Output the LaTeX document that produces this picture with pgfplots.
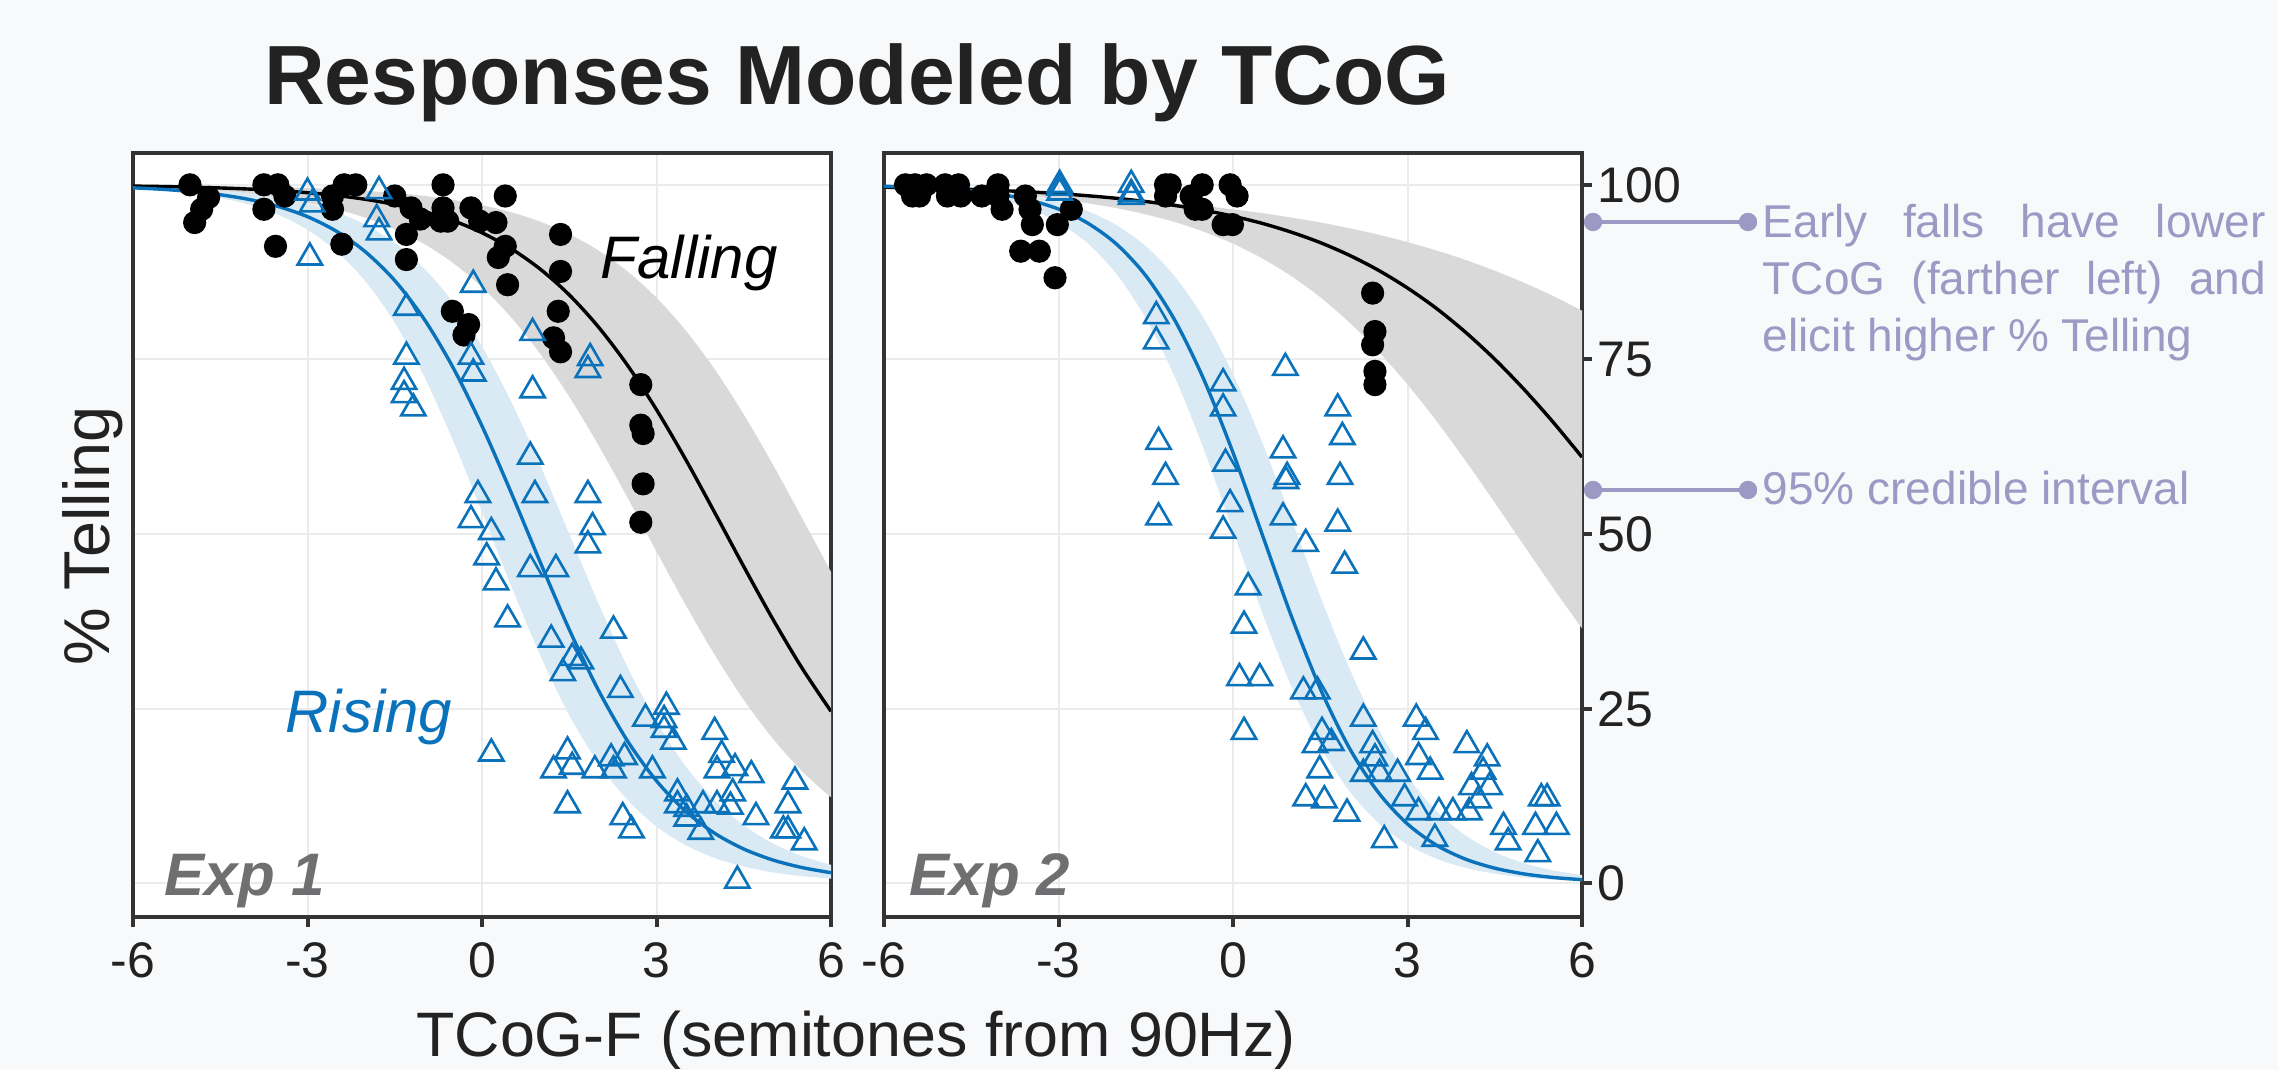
\documentclass[border=0pt]{standalone}
\usepackage{fontspec}
\setmainfont{Liberation Sans}
\usepackage{pgfplots}
\pgfplotsset{compat=1.18}
\usepackage{pgfplotstable}
\usepgfplotslibrary{fillbetween}
\definecolor{bg}{HTML}{F8F9FB}
\definecolor{myblue}{HTML}{0A72BA}
\definecolor{bandblue}{HTML}{DAEAF4}
\definecolor{bandgray}{HTML}{D9D9D9}
\definecolor{gridc}{HTML}{EBEBEB}
\definecolor{annot}{HTML}{9C99C5}
\definecolor{expg}{HTML}{6F6F71}
\definecolor{axc}{HTML}{333333}
\definecolor{txt}{HTML}{222222}

\pgfplotstableread{
x e1k e1kl e1ku e1b e1bl e1bu e2k e2kl e2ku e2b e2bl e2bu
-6 99.82 99.59 99.93 99.57 99.47 99.75 99.66 99.52 99.40 99.79 99.67 99.83
-5.5 99.76 99.44 99.90 99.36 99.19 99.63 99.57 99.38 99.31 99.67 99.47 99.74
-5 99.67 99.24 99.87 99.04 98.76 99.45 99.47 99.21 99.20 99.46 99.16 99.59
-4.5 99.55 98.96 99.82 98.58 98.12 99.18 99.34 99.00 99.07 99.14 98.65 99.36
-4 99.39 98.59 99.75 97.90 97.15 98.79 99.18 98.72 98.92 98.63 97.85 98.99
-3.5 99.17 98.09 99.66 96.89 95.70 98.20 98.99 98.37 98.75 97.81 96.59 98.43
-3 98.87 97.41 99.54 95.44 93.57 97.34 98.74 97.93 98.54 96.53 94.63 97.56
-2.5 98.47 96.50 99.37 93.34 90.49 96.08 98.44 97.37 98.31 94.53 91.64 96.23
-2 97.92 95.28 99.14 90.38 86.15 94.27 98.07 96.66 98.05 91.49 87.21 94.21
-1.5 97.18 93.67 98.83 86.30 80.26 91.68 97.61 95.77 97.74 87.00 80.91 91.21
-1 96.19 91.57 98.42 80.85 72.66 88.08 97.05 94.67 97.38 80.61 72.49 86.87
-0.5 94.88 88.83 97.85 73.88 63.47 83.20 96.36 93.28 96.97 72.11 62.10 80.85
0 93.14 85.37 97.09 65.48 53.18 76.85 95.51 91.58 96.49 61.66 50.47 72.91
0.5 90.87 81.04 96.08 55.97 42.62 69.00 94.49 89.48 95.95 50.00 38.79 63.18
1 87.94 75.82 94.73 46.01 32.68 59.87 93.23 86.95 95.32 38.34 28.27 52.25
1.5 84.25 69.68 92.94 36.35 24.10 50.00 91.73 83.91 94.61 27.89 19.69 41.10
2 79.67 62.76 90.61 27.69 17.19 40.13 89.92 80.31 93.79 19.39 13.23 30.79
2.5 74.19 55.26 87.61 20.42 11.95 31.00 87.77 76.16 92.86 13.01 8.66 22.10
3 67.81 47.52 83.84 14.68 8.15 23.15 85.23 71.42 91.80 8.51 5.57 15.32
3.5 60.71 39.89 79.17 10.34 5.48 16.80 82.29 66.17 90.59 5.47 3.54 10.34
4 53.10 32.74 73.59 7.18 3.65 11.92 78.88 60.49 89.24 3.47 2.23 6.85
4.5 45.36 26.29 67.13 4.93 2.42 8.32 75.04 54.51 87.70 2.19 1.40 4.48
5 37.83 20.73 59.96 3.36 1.59 5.73 70.75 48.41 86.00 1.37 0.87 2.90
5.5 30.85 16.08 52.33 2.28 1.05 3.92 66.06 42.35 84.09 0.86 0.55 1.87
6 24.64 12.32 44.59 1.54 0.69 2.66 61.02 36.50 81.98 0.54 0.34 1.20
}\curves

\pgfplotstableread{
x y
-5.02 100
-4.70 98.2
-4.82 96.5
-4.94 94.6
-3.75 100
-3.51 100
-3.39 98.4
-3.75 96.5
-3.55 91.2
-2.57 98.4
-2.57 96.5
-2.37 100
-2.17 100
-2.41 91.5
-1.50 98.4
-1.22 96.7
-1.30 92.9
-1.06 95.1
-1.30 89.3
-0.67 100
-0.67 96.7
-0.71 94.8
-0.59 94.8
-0.19 96.7
-0.04 94.8
0.24 94.6
0.40 98.4
0.40 91.2
0.28 89.6
0.44 85.7
-0.51 81.9
-0.23 80.0
-0.31 78.5
1.35 92.9
1.35 87.6
1.31 81.9
1.23 78.1
1.35 76.1
2.73 71.4
2.73 65.6
2.77 64.4
2.77 57.2
2.73 51.7
}\efall

\pgfplotstableread{
x y
-3.00 98.9
-2.92 97.2
-2.96 89.6
-1.77 99.1
-1.81 95.1
-1.77 93.2
-0.15 85.7
-1.30 82.4
0.87 78.8
-1.30 75.4
-0.19 75.4
-0.15 73.0
1.86 75.2
1.82 73.5
-1.34 71.8
-1.34 69.9
-1.18 68.0
0.87 70.6
0.83 61.1
-0.07 55.6
0.91 55.6
1.82 55.6
-0.19 52.0
0.16 50.3
1.90 51.0
1.82 48.4
0.08 46.7
0.24 43.1
0.83 45.0
1.27 45.0
0.44 37.8
2.26 36.2
1.19 34.9
1.55 32.3
1.70 31.8
1.39 30.1
2.38 27.7
3.17 25.3
2.81 23.6
3.13 23.4
3.13 22.0
3.29 20.3
4.00 21.7
4.12 18.4
0.16 18.6
1.47 18.9
1.23 16.2
1.55 16.7
1.94 16.2
2.22 17.9
2.26 16.2
2.45 18.1
2.93 16.2
4.04 16.2
4.35 16.5
4.63 15.5
5.38 14.6
4.31 12.9
3.36 12.9
3.36 11.2
3.52 10.7
3.80 11.2
4.04 11.2
4.27 11.0
5.26 11.2
1.47 11.2
2.42 9.5
2.57 7.6
3.52 9.3
3.76 7.4
4.71 9.5
5.18 7.6
5.26 7.6
5.54 5.9
4.39 0.4
}\erise

\pgfplotstableread{
x y
-5.63 100
-5.47 100
-5.27 100
-4.95 100
-4.72 100
-4.04 100
-1.16 100
-1.08 100
-0.53 100
-0.05 100
-5.51 98.4
-5.39 98.4
-4.91 98.4
-4.68 98.4
-4.32 98.4
-4.04 98.4
-3.57 98.4
-1.16 98.4
-0.72 98.4
0.07 98.4
-3.97 96.5
-3.49 96.5
-2.78 96.5
-0.65 96.5
-0.53 96.5
-3.45 94.3
-3.02 94.3
-0.17 94.3
-0.01 94.3
-3.65 90.5
-3.33 90.5
-3.06 86.7
2.40 84.5
2.44 79.0
2.40 77.1
2.44 73.3
2.44 71.4
}\ffall

\pgfplotstableread{
x y
-2.98 100
-2.98 99.6
-2.98 98.9
-1.75 100
-1.75 98.7
-1.75 98.3
-1.32 81.2
-1.32 77.6
-0.17 71.6
0.90 73.8
-0.17 68.0
1.80 68.0
1.88 63.9
-1.28 63.2
0.86 62.0
-0.13 60.1
-1.16 58.2
0.93 58.2
0.91 57.6
1.84 58.2
-0.05 54.3
-1.28 52.4
0.86 52.4
1.80 51.5
-0.17 50.5
1.25 48.6
1.92 45.5
0.26 42.4
0.19 36.9
2.24 33.2
0.11 29.4
0.46 29.4
1.21 27.5
1.45 27.5
0.19 21.7
2.24 23.6
3.15 23.6
3.31 21.7
1.53 21.7
1.41 19.8
1.69 20.1
2.40 19.8
2.44 17.9
4.02 19.8
3.19 18.1
4.37 17.9
1.49 16.2
2.24 15.7
2.52 15.7
2.83 15.7
3.39 16.0
4.30 16.0
4.10 13.8
4.41 13.8
1.25 12.2
1.57 11.9
2.95 12.2
4.22 11.9
5.30 12.2
5.40 12.2
1.96 10.0
3.19 10.2
3.54 10.2
3.78 10.2
4.06 10.2
4.65 8.1
5.20 8.1
5.56 8.1
2.60 6.2
3.47 6.4
4.73 5.9
5.24 4.2
}\frise

\pgfplotsset{
  panel/.style={
    scale only axis, width=174.5pt, height=190.9pt,
    anchor=south west,
    xmin=-6, xmax=6, ymin=-4.8, ymax=104.5,
    xtick={-6,-3,0,3,6}, xticklabels={-6,-3,0,3,6},
    ytick={0,25,50,75,100},
    grid=major, major grid style={gridc, line width=0.5pt},
    axis line style={axc, line width=1pt},
    axis background/.style={fill=white},
    tick align=outside, major tick length=2.5pt,
    tick style={axc, line width=1pt},
    xtick pos=left,
    ticklabel style={font=\fontsize{12.5}{12.5}\selectfont, text=txt},
    xticklabel style={anchor=base, inner sep=0pt, yshift=-12.5pt},
  },
  kline/.style={black, line width=0.85pt, smooth, no marks},
  bline/.style={myblue, line width=0.85pt, smooth, no marks},
  edge/.style={draw=none, smooth, no marks},
  dots/.style={only marks, mark=*, mark size=2.7pt, black},
  tris/.style={only marks, mark=triangle, mark size=3.5pt, myblue, mark options={line width=0.65pt}},
}
\AtBeginDocument{\pagecolor{bg}}

\begin{document}%
\begin{tikzpicture}

\begin{axis}[panel, at={(33.25pt,38.25pt)}, yticklabels={}, ytick style={draw=none}]
  \addplot[edge, name path=gu1] table[x=x, y=e1ku] {\curves};
  \addplot[edge, name path=gl1] table[x=x, y=e1kl] {\curves};
  \addplot[bandgray] fill between[of=gu1 and gl1];
  \addplot[edge, name path=bu1] table[x=x, y=e1bu] {\curves};
  \addplot[edge, name path=bl1] table[x=x, y=e1bl] {\curves};
  \addplot[bandblue] fill between[of=bu1 and bl1];
  \addplot[kline] table[x=x, y=e1k] {\curves};
  \addplot[bline] table[x=x, y=e1b] {\curves};
  \addplot[dots] table {\efall};
  \addplot[tris] table {\erise};
  \node[anchor=base west, inner sep=0pt, font=\itshape\fontsize{15}{15}\selectfont, text=black] at (axis cs:2.03,86.6) {Falling};
  \node[anchor=base west, inner sep=0pt, font=\itshape\fontsize{15}{15}\selectfont, text=myblue] at (axis cs:-3.39,21.6) {Rising};
  \node[anchor=base west, inner sep=0pt, font=\bfseries\itshape\fontsize{15}{15}\selectfont, text=expg] at (axis cs:-5.47,-1.7) {Exp 1};
\end{axis}

\begin{axis}[panel, at={(221pt,38.25pt)}, ytick pos=right, yticklabel pos=right,
  yticklabels={0,25,50,75,100},
  yticklabel style={anchor=west, inner sep=0pt, xshift=1.2pt}]
  \addplot[edge, name path=gu2] table[x=x, y=e2ku] {\curves};
  \addplot[edge, name path=gl2] table[x=x, y=e2kl] {\curves};
  \addplot[bandgray] fill between[of=gu2 and gl2];
  \addplot[edge, name path=bu2] table[x=x, y=e2bu] {\curves};
  \addplot[edge, name path=bl2] table[x=x, y=e2bl] {\curves};
  \addplot[bandblue] fill between[of=bu2 and bl2];
  \addplot[kline] table[x=x, y=e2k] {\curves};
  \addplot[bline] table[x=x, y=e2b] {\curves};
  \addplot[dots] table {\ffall};
  \addplot[tris] table {\frise};
  \node[anchor=base west, inner sep=0pt, font=\bfseries\itshape\fontsize{15}{15}\selectfont, text=expg] at (axis cs:-5.57,-1.7) {Exp 2};
\end{axis}

\node[anchor=base, inner sep=0pt, font=\bfseries\fontsize{21}{21}\selectfont, text=txt] at (214.25pt,241.25pt) {Responses Modeled by TCoG};
\node[anchor=base, inner sep=0pt, font=\fontsize{15.7}{15.7}\selectfont, text=txt] at (214pt,3.5pt) {TCoG-F (semitones from 90Hz)};
\node[anchor=base, inner sep=0pt, rotate=90, font=\fontsize{16.2}{16.2}\selectfont, text=txt] at (27.25pt,133.5pt) {\% Telling};

\draw[annot, line width=0.9pt] (398.25pt,212pt) -- (437pt,212pt);
\fill[annot] (398.25pt,212pt) circle (2.3pt);
\fill[annot] (437pt,212pt) circle (2.3pt);
\draw[annot, line width=0.9pt] (398.25pt,145pt) -- (437pt,145pt);
\fill[annot] (398.25pt,145pt) circle (2.3pt);
\fill[annot] (437pt,145pt) circle (2.3pt);
\node[anchor=base west, inner sep=0pt, text=annot, font=\fontsize{11.5}{14}\selectfont] at (440.5pt,208pt) {\makebox[125.75pt][s]{Early falls have lower}};
\node[anchor=base west, inner sep=0pt, text=annot, font=\fontsize{11.5}{14}\selectfont] at (440.5pt,193.75pt) {\makebox[125.75pt][s]{TCoG (farther left) and}};
\node[anchor=base west, inner sep=0pt, text=annot, font=\fontsize{11.5}{14}\selectfont] at (440.5pt,179.5pt) {elicit higher \% Telling};
\node[anchor=base west, inner sep=0pt, text=annot, font=\fontsize{11.5}{14}\selectfont] at (440.5pt,141.25pt) {95\% credible interval};

\pgfresetboundingbox
\path[use as bounding box] (0,0) rectangle (569.5pt,267.5pt);
\end{tikzpicture}%
\end{document}
